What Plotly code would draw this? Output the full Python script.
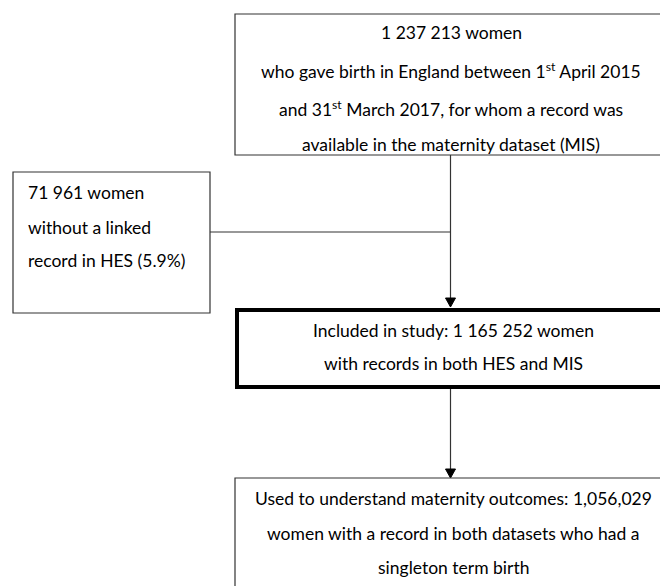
import plotly.graph_objects as go

# ---- content ----
top_lines = [
    "1 237 213 women",
    "who gave birth in England between 1<sup>st</sup> April 2015",
    "and 31<sup>st</sup> March 2017, for whom a record was",
    "available in the maternity dataset (MIS)",
]
excluded_lines = [
    "71 961 women",
    "without a linked",
    "record in HES (5.9%)",
]
included_lines = [
    "Included in study: 1 165 252 women",
    "with records in both HES and MIS",
]
outcome_lines = [
    "Used to understand maternity outcomes: 1,056,029",
    "women with a record in both datasets who had a",
    "singleton term birth",
]

W, H = 668, 586
OFF = 8  # page body margin
FONT = dict(family="Lato, Carlito, Calibri, sans-serif", size=17.5, color="#000")
LINE = "#333"

fig = go.Figure()
shapes = []
annotations = []


def box(x0, y0, x1, y1, width=1.2, color=LINE):
    shapes.append(dict(type="rect", xref="x", yref="y", x0=x0, y0=y0, x1=x1, y1=y1,
                       line=dict(color=color, width=width), fillcolor="rgba(0,0,0,0)"))


def seg(x0, y0, x1, y1, width=1.2):
    shapes.append(dict(type="line", xref="x", yref="y", x0=x0, y0=y0, x1=x1, y1=y1,
                       line=dict(color=LINE, width=width)))


def arrowhead(x, y):
    shapes.append(dict(type="path", xref="x", yref="y",
                       path=f"M {x-5},{y-9} L {x+5},{y-9} L {x},{y} Z",
                       fillcolor="#000", line=dict(color="#000", width=1)))


def text_lines(lines, x, ys, anchor="center"):
    for t, y in zip(lines, ys):
        annotations.append(dict(x=x, y=y, xref="x", yref="y", text=t, showarrow=False,
                                xanchor=anchor, yanchor="middle", font=FONT))


# top box (right edge lies outside the picture)
box(235, 14, 720, 155)
text_lines(top_lines, 451, [32, 70, 108, 144])

# excluded box
box(13, 172, 210, 313)
text_lines(excluded_lines, 26, [192, 227, 260], anchor="left")

# connectors
seg(450.5, 155, 450.5, 306)
seg(210, 232, 450.5, 232)
arrowhead(450.5, 307)

# included (thick) box
box(237, 310, 720, 387, width=4, color="#000")
text_lines(included_lines, 453, [330, 363])

seg(450.5, 389, 450.5, 470)
arrowhead(450.5, 478)

# outcome box
box(235, 478, 720, 640)
text_lines(outcome_lines, 453, [498, 533, 567])

fig.update_layout(
    width=W - OFF, height=H - OFF,
    margin=dict(l=0, r=0, t=0, b=0),
    paper_bgcolor="white", plot_bgcolor="white",
    xaxis=dict(range=[OFF, W], visible=False, fixedrange=True),
    yaxis=dict(range=[H, OFF], visible=False, fixedrange=True),
    shapes=shapes, annotations=annotations, showlegend=False,
)

fig.write_html("out.html")
